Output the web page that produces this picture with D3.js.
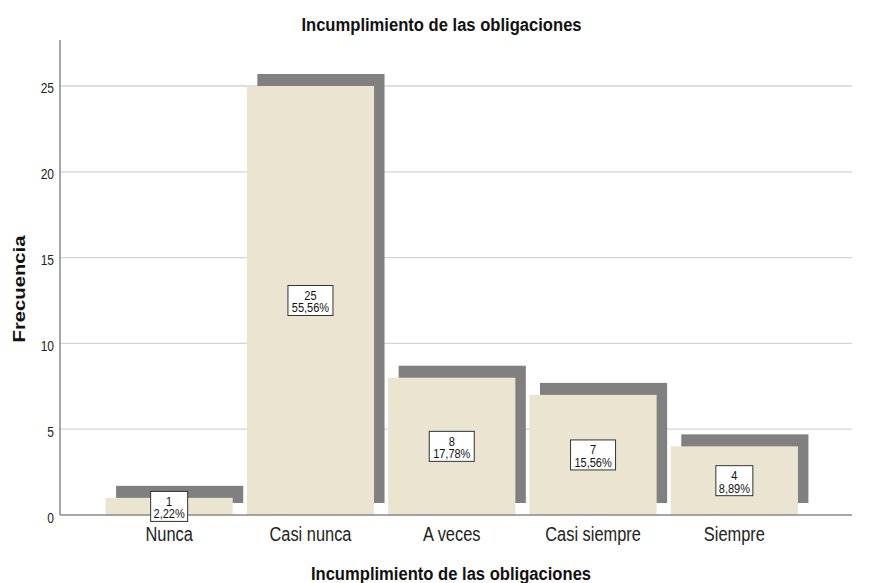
<!DOCTYPE html>
<html><head><meta charset="utf-8">
<script src="https://cdn.jsdelivr.net/npm/d3@7/dist/d3.min.js"></script>
<style>body{margin:0;background:#fff}svg{display:block}</style>
</head><body>
<script>
const categories = ["Nunca", "Casi nunca", "A veces", "Casi siempre", "Siempre"];
const counts = [1, 25, 8, 7, 4];
const percents = ["2,22%", "55,56%", "17,78%", "15,56%", "8,89%"];
const yTicks = [0, 5, 10, 15, 20, 25];

const W = 873, H = 583;
const svg = d3.select("body").append("svg").attr("width", W).attr("height", H);
const font = "'Liberation Sans', Arial, sans-serif";

const x0 = 60, x1 = 852, yTop = 40, yBot = 515;
const y = d3.scaleLinear().domain([0, 27.68]).range([yBot, yTop]);
const x = d3.scaleBand().domain(categories).range([98.5, 805]).paddingInner(0.1).paddingOuter(0.05);

function txt(g, tx, ty, str, size, opts = {}) {
  const sy = opts.sy || 1.2;
  const rot = opts.rotate ? " rotate(-90)" : "";
  const sc = opts.rotate ? `scale(${sy},1)` : `scale(1,${sy})`;
  return g.append("text")
    .attr("transform", `translate(${tx},${ty})${rot} ${sc}`)
    .attr("text-anchor", opts.anchor || "middle")
    .attr("font-family", font)
    .attr("font-weight", opts.bold ? "bold" : "normal")
    .attr("font-size", size)
    .attr("fill", opts.fill || "#111")
    .text(str);
}

// gridlines
svg.append("g").selectAll("line").data(yTicks.filter(d => d > 0)).join("line")
  .attr("x1", x0).attr("x2", x1).attr("y1", d => y(d)).attr("y2", d => y(d))
  .attr("stroke", "#d4d4d4").attr("stroke-width", 1.3);

const dx = 10.5, dy = -12;
// shadows
svg.append("g").selectAll("rect").data(counts).join("rect")
  .attr("x", (d, i) => x(categories[i]) + dx)
  .attr("y", d => y(d) + dy)
  .attr("width", x.bandwidth())
  .attr("height", d => yBot - y(d))
  .attr("fill", "#808080");
// bars
svg.append("g").selectAll("rect").data(counts).join("rect")
  .attr("x", (d, i) => x(categories[i]))
  .attr("y", d => y(d))
  .attr("width", x.bandwidth())
  .attr("height", d => yBot - y(d))
  .attr("fill", "#eae4d0");

// axis lines
svg.append("line").attr("x1", x0).attr("x2", x0).attr("y1", yTop).attr("y2", yBot)
  .attr("stroke", "#888").attr("stroke-width", 1.5);
svg.append("line").attr("x1", x0).attr("x2", x1).attr("y1", yBot).attr("y2", yBot)
  .attr("stroke", "#888").attr("stroke-width", 1.5);

// y tick labels
const gy = svg.append("g");
yTicks.forEach(t => txt(gy, 54, y(t) + 7.5, String(t), 12, { anchor: "end", sy: 1.15, fill: "#222" }));

// category labels
const gx = svg.append("g");
categories.forEach(c => txt(gx, x(c) + x.bandwidth() / 2, 541, c, 16.4, { sy: 1.22, fill: "#222" }));

// value labels
const gl = svg.append("g");
counts.forEach((d, i) => {
  const cx = x(categories[i]) + x.bandwidth() / 2;
  const cy = (y(d) + yBot) / 2;
  const w = percents[i].length > 5 ? 45 : 37;
  gl.append("rect").attr("x", cx - w / 2).attr("y", cy - 15).attr("width", w).attr("height", 30)
    .attr("fill", "#fff").attr("stroke", "#333").attr("stroke-width", 1);
  txt(gl, cx, cy - 0.5, String(d), 11, { sy: 1.1 });
  txt(gl, cx, cy + 12, percents[i], 11, { sy: 1.1 });
});

// titles
txt(svg, 441.5, 31, "Incumplimiento de las obligaciones", 16.6, { bold: true, sy: 1.12 });
txt(svg, 451, 580, "Incumplimiento de las obligaciones", 16.6, { bold: true, sy: 1.12 });
txt(svg, 25, 289, "Frecuencia", 16.6, { bold: true, sy: 1.22, rotate: true });
</script>
</body></html>
